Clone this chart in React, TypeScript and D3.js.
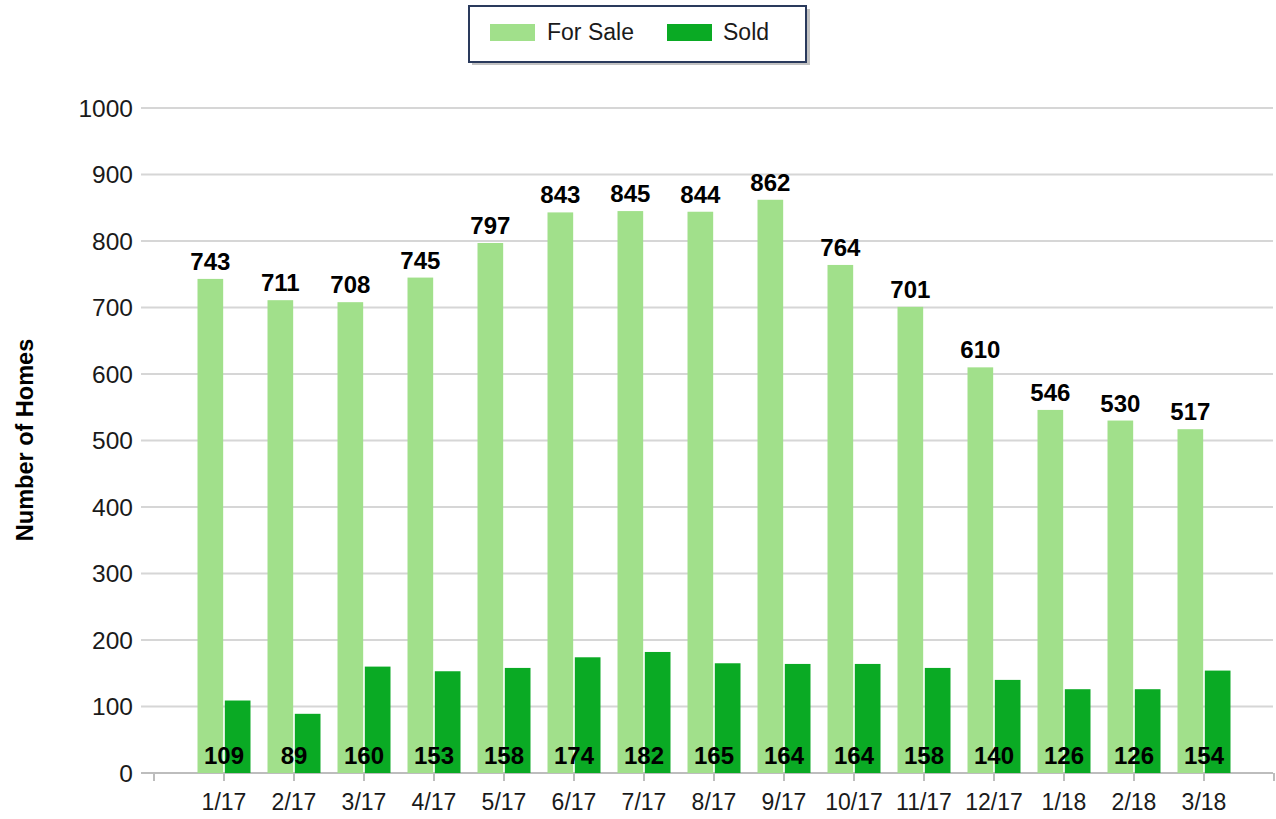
import React from "react";
import * as d3 from "d3";

const categories = ["1/17","2/17","3/17","4/17","5/17","6/17","7/17","8/17","9/17","10/17","11/17","12/17","1/18","2/18","3/18"];
const forSale = [743,711,708,745,797,843,845,844,862,764,701,610,546,530,517];
const sold = [109,89,160,153,158,174,182,165,164,164,158,140,126,126,154];
const seriesNames = ["For Sale","Sold"];
const seriesColors = ["#a1e08b","#0aaa24"];
const yTicks = [0,100,200,300,400,500,600,700,800,900,1000];

export default function App() {
  const W = 1276, H = 819;
  const axisLeft = 154, axisRight = 1274;
  const gridLeft = 141;
  const x = d3.scaleBand<string>().domain(categories).range([axisLeft + 35, axisRight - 35]).padding(0);
  const xs = d3.scaleBand<string>().domain(seriesNames).range([-26.5, 26.5]).paddingInner(0.06);
  const y = d3.scaleLinear().domain([0, 1000]).range([773, 108]);
  const font = "'Liberation Sans', Arial, sans-serif";
  const data = [forSale, sold];
  const tickXs = [axisLeft, ...categories.map(c => (x(c) as number) + x.bandwidth() / 2), axisRight];
  return (
    <svg width={W} height={H} style={{ position: "absolute", left: 0, top: 0, background: "#fff" }} fontFamily={font}>
      <rect x={0} y={0} width={W} height={H} fill="#fff" />
      {yTicks.map(t => (
        <g key={t}>
          <line x1={gridLeft} x2={axisRight - 1} y1={y(t)} y2={y(t)} stroke={t === 0 ? "#bdbdbd" : "#d6d6d6"} strokeWidth={2} />
          <text x={133} y={y(t)} dy="0.36em" textAnchor="end" fontSize={24.5} fill="#1a1a1a">{t}</text>
        </g>
      ))}
      {tickXs.map((tx, i) => (
        <line key={i} x1={tx} x2={tx} y1={773} y2={781} stroke="#bdbdbd" strokeWidth={2} />
      ))}
      {categories.map(c => (
        <text key={c} x={(x(c) as number) + x.bandwidth() / 2} y={810} textAnchor="middle" fontSize={23} fill="#1a1a1a">{c}</text>
      ))}
      {categories.map((c, i) => {
        const cx = (x(c) as number) + x.bandwidth() / 2;
        return (
          <g key={c}>
            {seriesNames.map((s, j) => (
              <rect key={s} x={cx + (xs(s) as number)} width={xs.bandwidth()} y={y(data[j][i])} height={y(0) - y(data[j][i])} fill={seriesColors[j]} />
            ))}
          </g>
        );
      })}
      {categories.map((c, i) => {
        const cx = (x(c) as number) + x.bandwidth() / 2;
        return (
          <g key={c} fontWeight="bold" fontSize={24} fill="#000" textAnchor="middle">
            <text x={cx + (xs("For Sale") as number) + xs.bandwidth() / 2} y={y(forSale[i]) - 9}>{forSale[i]}</text>
            <text x={cx} y={764}>{sold[i]}</text>
          </g>
        );
      })}
      <text transform="translate(33,440) rotate(-90)" textAnchor="middle" fontWeight="bold" fontSize={23.5} fill="#000">Number of Homes</text>
      <rect x={472} y={9} width={338} height={56} fill="#9a9a9a" opacity={0.6} />
      <rect x={469} y={6} width={337} height={56} fill="#fff" stroke="#2a3a5c" strokeWidth={2} />
      <rect x={490} y={24} width={45} height={17} fill={seriesColors[0]} />
      <text x={547} y={40} fontSize={23} fill="#1a1a1a">For Sale</text>
      <rect x={667} y={24} width={45} height={17} fill={seriesColors[1]} />
      <text x={723} y={40} fontSize={23} fill="#1a1a1a">Sold</text>
    </svg>
  );
}
